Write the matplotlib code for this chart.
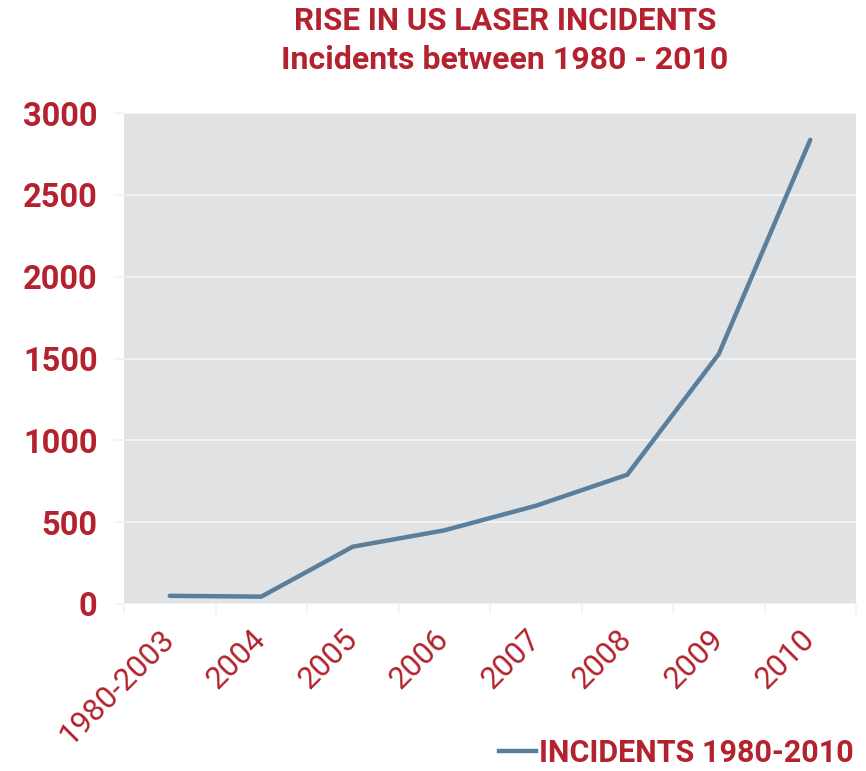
import matplotlib
matplotlib.use("Agg")
import matplotlib.pyplot as plt
from matplotlib.lines import Line2D

categories = ["1980-2003", "2004", "2005", "2006", "2007", "2008", "2009", "2010"]
incidents = [50, 45, 350, 450, 600, 790, 1527, 2836]
y_ticks = [0, 500, 1000, 1500, 2000, 2500, 3000]

RED = "#b3222e"
LINE = "#5a7f9d"
BG = "#e1e2e4"
GRID = "#f2f2f2"

plt.rcParams['font.family'] = ['Roboto', 'DejaVu Sans']

fig = plt.figure(figsize=(8.66, 7.71), dpi=100)
ax = fig.add_axes([124/866, 167/771, 732/866, 491/771])
ax.set_facecolor(BG)

x = list(range(len(categories)))
ax.plot(x, incidents, color=LINE, lw=3.2, solid_capstyle='round', solid_joinstyle='miter')

ax.set_xlim(-0.5, len(categories) - 0.5)
ax.set_ylim(0, 3000)
ax.set_yticks(y_ticks)
ax.set_yticklabels([str(v) for v in y_ticks], color=RED, fontsize=23.5, fontweight='bold')
ax.set_xticks(x)
ax.set_xticklabels(categories, color=RED, fontsize=22.5, rotation=45, ha='right',
                   rotation_mode='anchor', va='center')
ax.tick_params(axis='x', length=0, pad=22)
ax.set_xticks([i - 0.5 for i in range(len(categories) + 1)], minor=True)
ax.tick_params(axis='x', which='minor', length=7, color=GRID, width=1.2)
ax.tick_params(axis='y', length=7, color=GRID, width=1.2, pad=12)
ax.grid(axis='y', color=GRID, lw=1.5)
ax.set_axisbelow(True)
for s in ax.spines.values():
    s.set_visible(False)

fig.text(505/866, 1 - 21/771, "RISE IN US LASER INCIDENTS", color=RED, fontsize=22.5,
         fontweight='bold', ha='center', va='center')
fig.text(505/866, 1 - 60/771, "Incidents between 1980 - 2010", color=RED, fontsize=23,
         fontweight='bold', ha='center', va='center')

handle = Line2D([0], [0], color=LINE, lw=3.2)
leg = fig.legend([handle], ["INCIDENTS 1980-2010"], loc='center right',
                 bbox_to_anchor=(866/866, 1 - 753/771), frameon=False,
                 handlelength=1.2, handletextpad=0.1, borderaxespad=0,
                 prop={'size': 22, 'weight': 'bold', 'family': ['Liberation Sans Narrow', 'Roboto', 'DejaVu Sans']})
for t in leg.get_texts():
    t.set_color(RED)

fig.savefig("out.png", dpi=100)
